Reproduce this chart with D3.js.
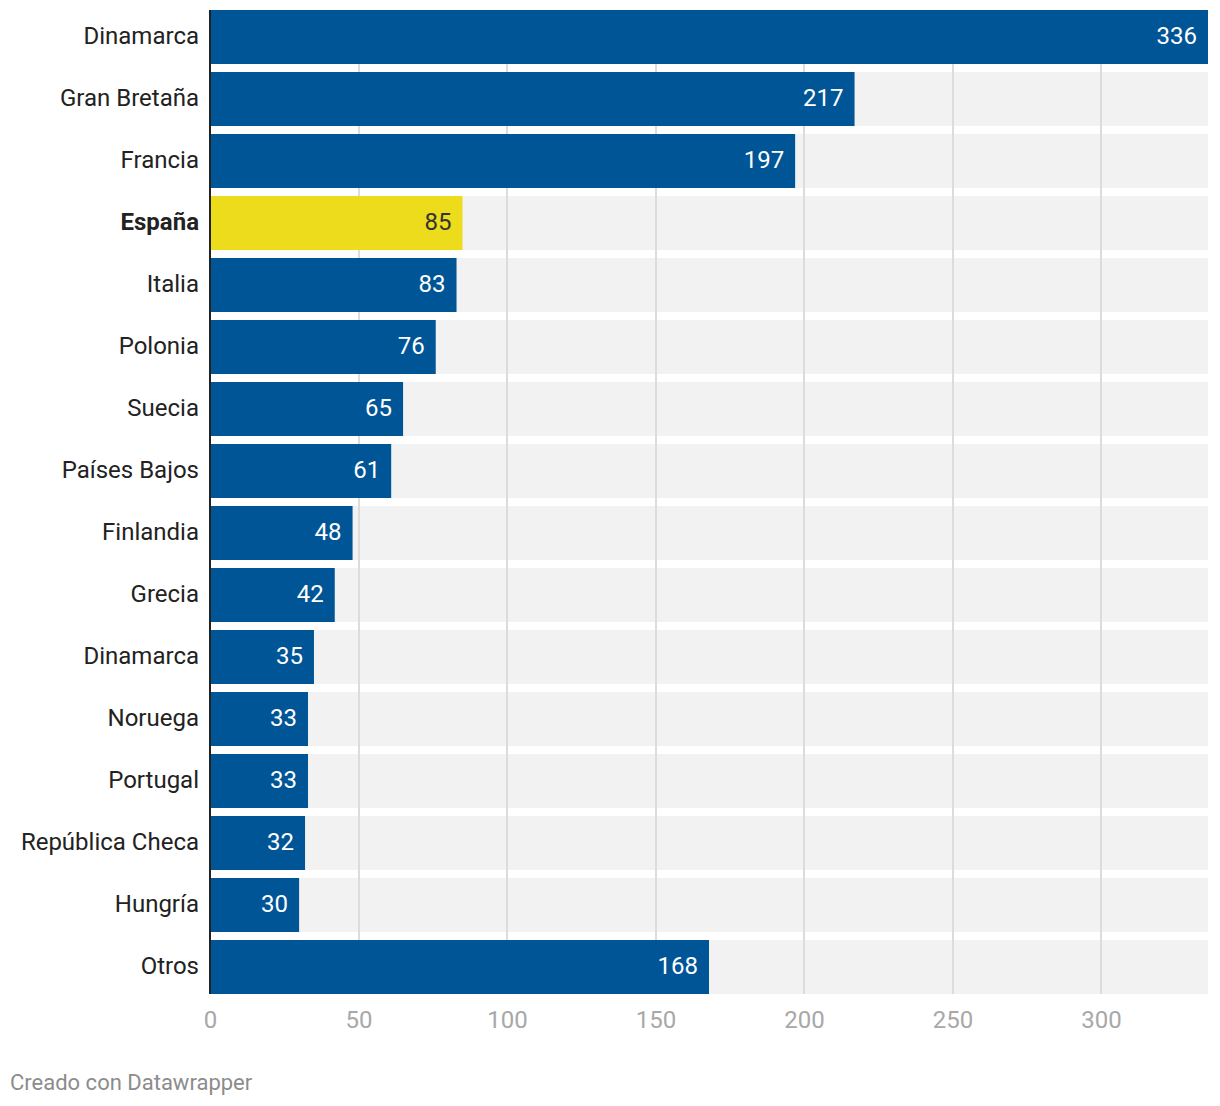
<!DOCTYPE html>
<html><head><meta charset="utf-8">
<script src="https://cdn.jsdelivr.net/npm/d3@7"></script>
<style>
body{margin:0;background:#fff;font-family:Roboto,"Noto Sans",sans-serif;}
</style></head>
<body><svg id="c" width="1220" height="1106"></svg>
<script>
const categories = ["Dinamarca","Gran Bretaña","Francia","España","Italia","Polonia","Suecia","Países Bajos","Finlandia","Grecia","Dinamarca ","Noruega","Portugal","República Checa","Hungría","Otros"];
const values = [336,217,197,85,83,76,65,61,48,42,35,33,33,32,30,168];
const highlight = ["España"];
const tickValues = [0,50,100,150,200,250,300];
const footer = "Creado con Datawrapper";

(function(){
const svg = d3.select("#c");
const mLeft = 210, mRight = 1208, mTop = 10, mBottom = 994;
const x = d3.scaleLinear().domain([0,336]).range([mLeft,mRight]);
const y = d3.scaleBand().domain(categories).range([mTop,mBottom]).paddingInner(8/62).paddingOuter(0);
const bh = y.bandwidth();

svg.append("g").selectAll("rect").data(categories).join("rect")
  .attr("x", mLeft).attr("y", d=>y(d)).attr("width", mRight-mLeft).attr("height", bh)
  .attr("fill","#f2f2f2");

svg.append("g").selectAll("line").data(tickValues.filter(t=>t>0)).join("line")
  .attr("x1", d=>Math.round(x(d))).attr("x2", d=>Math.round(x(d)))
  .attr("y1", mTop).attr("y2", mBottom)
  .attr("stroke","#dcdcdc").attr("stroke-width",2);

const data = categories.map((c,i)=>({c, v: values[i], hl: highlight.includes(c)}));
svg.append("g").selectAll("rect").data(data).join("rect")
  .attr("x", mLeft).attr("y", d=>y(d.c)).attr("width", d=>x(d.v)-mLeft).attr("height", bh)
  .attr("fill", d=>d.hl ? "#ecdc1b" : "#005596");

svg.append("g").selectAll("text").data(data).join("text")
  .attr("x", d=>x(d.v)-11).attr("y", d=>y(d.c)+bh/2).attr("dy","0.29em")
  .attr("text-anchor","end").attr("font-size",24)
  .attr("fill", d=>d.hl ? "#333" : "#fff").text(d=>d.v);

svg.append("g").selectAll("text").data(data).join("text")
  .attr("x", mLeft-11).attr("y", d=>y(d.c)+bh/2).attr("dy","0.29em")
  .attr("text-anchor","end").attr("font-size",24)
  .attr("font-weight", d=>d.hl ? "bold" : "normal")
  .attr("fill","#222").text(d=>d.c.trim());

svg.append("line").attr("x1",mLeft).attr("x2",mLeft).attr("y1",mTop).attr("y2",mBottom)
  .attr("stroke","#222").attr("stroke-width",2);

const ax = svg.append("g").attr("transform",`translate(0,${mBottom})`)
  .call(d3.axisBottom(x).tickValues(tickValues).tickSize(0).tickPadding(0));
ax.select(".domain").remove();
ax.selectAll("text").attr("font-size",24).attr("font-family","Roboto").attr("fill","#a8a8a8").attr("dy","0").attr("y",34);

svg.append("text").attr("x",10).attr("y",1090).attr("font-size",22).attr("fill","#8c8c8c").text(footer);
})();
</script></body></html>
